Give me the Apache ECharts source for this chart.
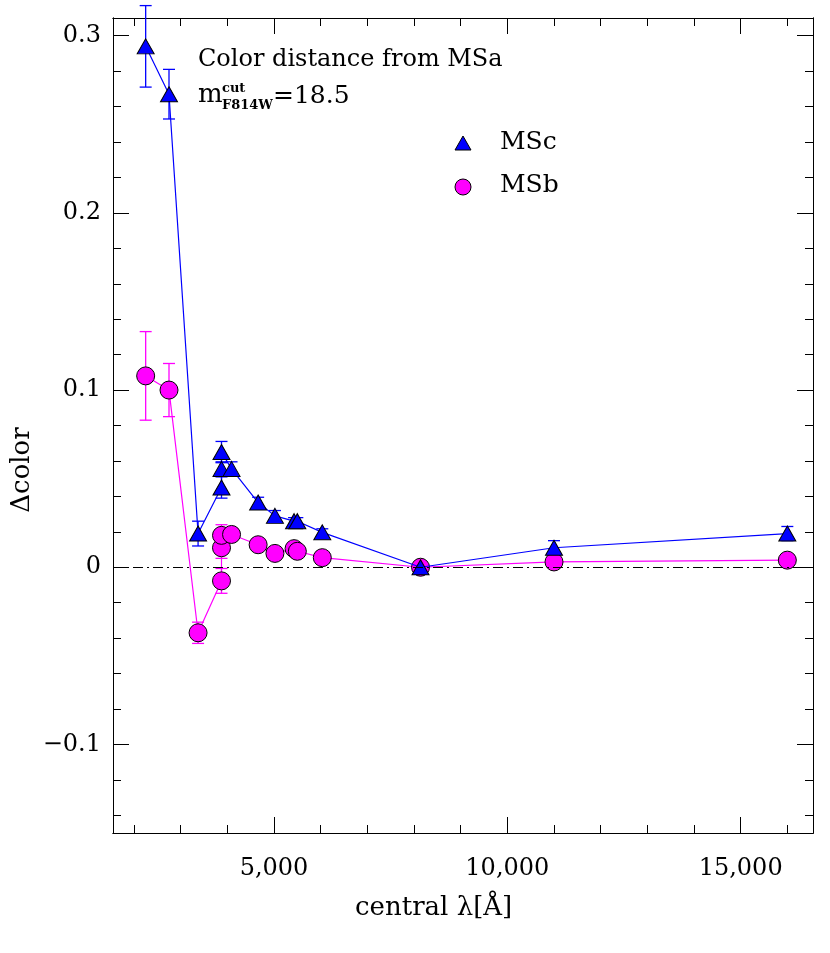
<!DOCTYPE html>
<html><head><meta charset="utf-8">
<script src="https://cdn.jsdelivr.net/npm/echarts@6/dist/echarts.min.js"></script>
<style>html,body{margin:0;padding:0;background:#fff}#c{width:830px;height:953px}</style>
</head><body><div id="c"></div>
<script>
const lambdaC = [2250, 2750, 3373, 3875, 3875, 3875, 4090, 4660, 5020, 5430, 5500, 6035, 8140, 11000, 16000];
const msc = [0.294, 0.267, 0.019, 0.045, 0.0555, 0.065, 0.0555, 0.0365, 0.029, 0.026, 0.026, 0.0197, 0.0, 0.011, 0.019];
const mscErr = [0.023, 0.014, 0.007, 0.006, 0.004, 0.006, 0.004, 0.003, 0.003, 0.002, 0.002, 0.002, 0.002, 0.004, 0.004];
const lambdaB = [2250, 2750, 3373, 3875, 3875, 3875, 4090, 4660, 5020, 5430, 5500, 6035, 8140, 11000, 16000];
const msb = [0.108, 0.100, -0.037, -0.0077, 0.011, 0.018, 0.0185, 0.0127, 0.0078, 0.0105, 0.009, 0.0054, 0.0, 0.003, 0.004];
const msbErr = [0.025, 0.015, 0.006, 0.007, 0.006, 0.006, 0.003, 0.002, 0.002, 0.002, 0.002, 0.002, 0.002, 0.002, 0.002];
const xMajor = [5000, 10000, 15000];
const xMinor = [2000,3000,4000,6000,7000,8000,9000,11000,12000,13000,14000,16000];
const yMajor = [-0.1, 0, 0.1, 0.2, 0.3];
const yMinor = [-0.14,-0.12,-0.08,-0.06,-0.04,-0.02,0.02,0.04,0.06,0.08,0.12,0.14,0.16,0.18,0.22,0.24,0.26,0.28];

const FONT = 'DejaVu Serif';
const XMIN = 1550, XMAX = 16550, YMIN = -0.15, YMAX = 0.31;
function xAx(pos, vals, len, labels) {
  return {type:'value', min:XMIN, max:XMAX, position:pos, splitLine:{show:false},
    axisLine:{show:true, onZero:false, lineStyle:{color:'#000', width:1}},
    axisTick:{show:true, inside:true, length:len, customValues:vals, lineStyle:{color:'#000'}},
    axisLabel:{show:labels, customValues:vals, color:'#000', fontFamily:FONT, fontSize:24, margin:24}};
}
function yAx(pos, vals, len, labels) {
  return {type:'value', min:YMIN, max:YMAX, position:pos, splitLine:{show:false},
    axisLine:{show:true, onZero:false, lineStyle:{color:'#000', width:1}},
    axisTick:{show:true, inside:true, length:len, customValues:vals, lineStyle:{color:'#000'}},
    axisLabel:{show:labels, customValues:vals, color:'#000', fontFamily:FONT, fontSize:24, margin:12,
      formatter: v => Math.abs(v) < 1e-9 ? '0' : (v < 0 ? '\u2212' + Math.abs(v).toFixed(1) : v.toFixed(1))}};
}
function errSeries(xs, ys, es, color) {
  return {type:'custom', xAxisIndex:0, yAxisIndex:0, z:1,
    data: xs.map((x,i)=>[x, ys[i]-es[i], ys[i]+es[i]]),
    renderItem: (params, api) => {
      const lo = api.coord([api.value(0), api.value(1)]);
      const hi = api.coord([api.value(0), api.value(2)]);
      const w = 6, st = {stroke:color, lineWidth:1.3};
      return {type:'group', children:[
        {type:'line', shape:{x1:lo[0], y1:lo[1], x2:hi[0], y2:hi[1]}, style:st},
        {type:'line', shape:{x1:lo[0]-w, y1:lo[1], x2:lo[0]+w, y2:lo[1]}, style:st},
        {type:'line', shape:{x1:hi[0]-w, y1:hi[1], x2:hi[0]+w, y2:hi[1]}, style:st}]};
    }};
}
function txt(x, y, s, font, extra) {
  return Object.assign({type:'text', x:x, y:y, style:{text:s, font:font, fill:'#000'}}, extra || {});
}
const chart = echarts.init(document.getElementById('c'));
chart.setOption({
  animation:false,
  grid:{left:113, right:17, top:18, bottom:120},
  xAxis:[xAx('bottom', xMajor, 16, true), xAx('bottom', xMinor, 8, false), xAx('top', xMajor, 16, false), xAx('top', xMinor, 8, false)],
  yAxis:[yAx('left', yMajor, 16, true), yAx('left', yMinor, 8, false), yAx('right', yMajor, 16, false), yAx('right', yMinor, 8, false)],
  graphic:{elements:[
    txt(198, 48, 'Color distance from MSa', '24px "DejaVu Serif"'),
    txt(198, 82, 'm', '26px "DejaVu Serif"'),
    txt(222, 82, 'cut', 'bold 13px "DejaVu Serif"'),
    txt(222, 99, 'F814W', 'bold 13px "DejaVu Serif"'),
    txt(273, 84, '=18.5', '25px "DejaVu Serif"'),
    txt(500, 130, 'MSc', '25px "DejaVu Serif"'),
    txt(500, 173, 'MSb', '25px "DejaVu Serif"'),
    {type:'polygon', shape:{points:[[463,136],[471,150],[455,150]]}, style:{fill:'#0000ff', stroke:'#000', lineWidth:1}},
    {type:'circle', shape:{cx:463, cy:187, r:8}, style:{fill:'#ff00ff', stroke:'#000', lineWidth:1}},
    {type:'text', x:22, y:470, rotation:Math.PI/2, style:{text:'\u0394color', font:'26px "DejaVu Serif"', fill:'#000', align:'center', verticalAlign:'middle'}},
    txt(355, 895, 'central \u03bb[\u00c5]', '26px "DejaVu Serif"')
  ]},
  series:[
    errSeries(lambdaB, msb, msbErr, '#ff00ff'),
    errSeries(lambdaC, msc, mscErr, '#0000ff'),
    {type:'line', xAxisIndex:0, yAxisIndex:0, z:2, data:lambdaB.map((x,i)=>[x,msb[i]]),
      lineStyle:{color:'#ff00ff', width:1.2}, symbol:'circle', symbolSize:18,
      itemStyle:{color:'#ff00ff', borderColor:'#000', borderWidth:1},
      markLine:{silent:true, symbol:'none', label:{show:false}, lineStyle:{color:'#000', width:1, type:[10,4,2,4]}, data:[{yAxis:0}]}},
    {type:'line', xAxisIndex:0, yAxisIndex:0, z:3, data:lambdaC.map((x,i)=>[x,msc[i]]),
      lineStyle:{color:'#0000ff', width:1.2}, symbol:'triangle', symbolSize:[17,15],
      itemStyle:{color:'#0000ff', borderColor:'#000', borderWidth:1}}
  ]
});
</script></body></html>
